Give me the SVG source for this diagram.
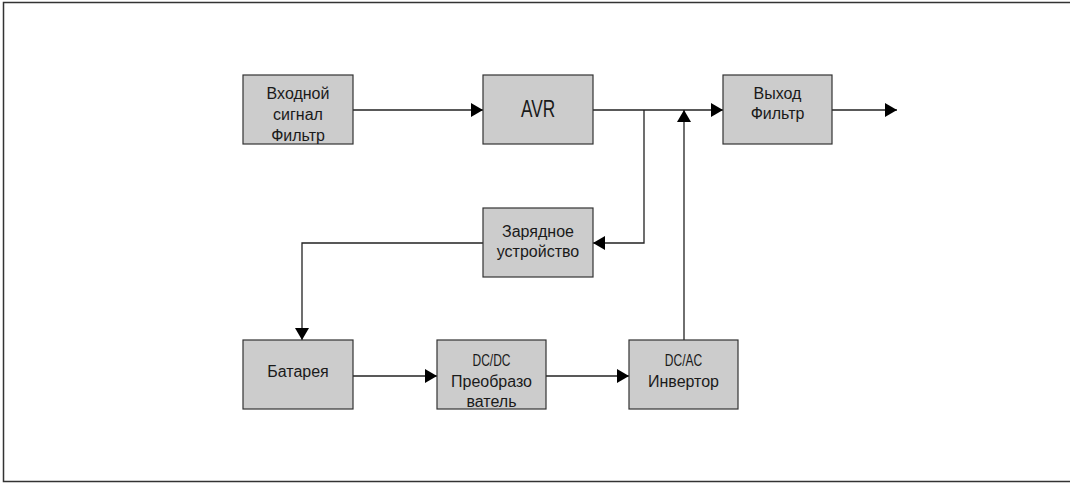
<svg xmlns="http://www.w3.org/2000/svg" width="1070" height="483" viewBox="0 0 1070 483">
<defs>
<marker id="ah" viewBox="0 0 12 14" refX="12" refY="7" markerWidth="12" markerHeight="14" markerUnits="userSpaceOnUse" orient="auto">
<path d="M0,0 L12,7 L0,14 z" fill="#000"/>
</marker>
<style>
.box{fill:#cccccc;stroke:#333;stroke-width:1.2}
.t{font-family:"Liberation Sans",Arial,sans-serif;font-size:16px;fill:#1a1a1a;text-anchor:middle}
.n{font-family:"Liberation Sans",Arial,sans-serif;fill:#1a1a1a;text-anchor:middle}
.c{fill:none;stroke:#222;stroke-width:1.3}
</style>
</defs>
<rect x="3.5" y="2.5" width="1080" height="479" fill="#fff" stroke="#333" stroke-width="1.5"/>
<g id="connectors">
<path class="c" d="M353,110 H483" marker-end="url(#ah)"/>
<path class="c" d="M593,110 H723" marker-end="url(#ah)"/>
<path class="c" d="M832,110 H897" marker-end="url(#ah)"/>
<path class="c" d="M644,110 V243 H593" marker-end="url(#ah)"/>
<path class="c" d="M483,243 H302 V340" marker-end="url(#ah)"/>
<path class="c" d="M353,376 H437" marker-end="url(#ah)"/>
<path class="c" d="M546,376 H629" marker-end="url(#ah)"/>
<path class="c" d="M684,340 V110" marker-end="url(#ah)"/>
</g>
<g id="input">
<rect class="box" x="243" y="75" width="110" height="69"/>
<text class="t" x="298" y="99">Входной</text>
<text class="t" x="298" y="120">сигнал</text>
<text class="t" x="298" y="141">Фильтр</text>
</g>
<g id="avr">
<rect class="box" x="483" y="75" width="110" height="69"/>
<text class="n" transform="translate(538,117) scale(0.75,1)" x="0" y="0" font-size="23">AVR</text>
</g>
<g id="output">
<rect class="box" x="723" y="75" width="109" height="69"/>
<text class="t" x="777.5" y="99">Выход</text>
<text class="t" x="777.5" y="119">Фильтр</text>
</g>
<g id="charger">
<rect class="box" x="483" y="208" width="110" height="69"/>
<text class="t" x="538" y="237">Зарядное</text>
<text class="t" x="538" y="257">устройство</text>
</g>
<g id="battery">
<rect class="box" x="243" y="340" width="110" height="69"/>
<text class="t" x="298" y="377">Батарея</text>
</g>
<g id="dcdc">
<rect class="box" x="437" y="340" width="109" height="69"/>
<text class="n" transform="translate(491.5,365.5) scale(0.75,1)" x="0" y="0" font-size="16">DC/DC</text>
<text class="t" x="491.5" y="387">Преобразо</text>
<text class="t" x="491.5" y="407">ватель</text>
</g>
<g id="inverter">
<rect class="box" x="629" y="340" width="109" height="69"/>
<text class="n" transform="translate(683.5,365.5) scale(0.75,1)" x="0" y="0" font-size="16">DC/AC</text>
<text class="t" x="683.5" y="387">Инвертор</text>
</g>
</svg>
